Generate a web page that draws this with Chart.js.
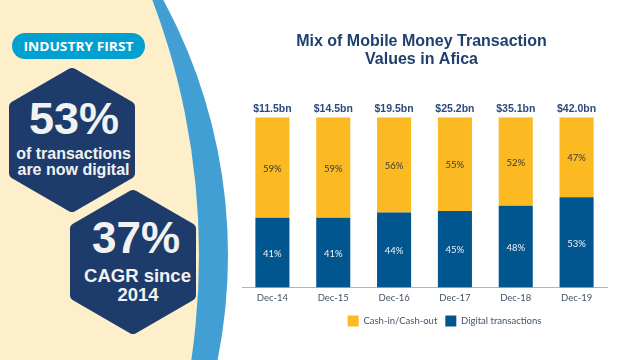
<!DOCTYPE html>
<html><head><meta charset="utf-8">
<script src="https://cdn.jsdelivr.net/npm/chart.js@4/dist/chart.umd.min.js"></script>
<style>
html,body{margin:0;padding:0;background:#fff;}
#wrap{position:relative;width:640px;height:360px;overflow:hidden;background:#fff;}
#panel{position:absolute;left:0;top:0;}
#c{position:absolute;left:0;top:0;}
</style></head><body>
<div id="wrap">
<svg id="panel" width="640" height="360" xmlns="http://www.w3.org/2000/svg">
  <circle cx="-307" cy="255" r="535" fill="#429fd3"/>
  <circle cx="-521" cy="255" r="720" fill="#fcefca"/>
  <rect x="12" y="33" width="133" height="26" rx="13" fill="#00a0d0"/>
  <text x="78.5" y="50.5" text-anchor="middle" font-family="Open Sans" font-weight="700" font-size="11.5" fill="#ffffff" textLength="110" lengthAdjust="spacingAndGlyphs">INDUSTRY FIRST</text>
  <polygon points="72,74 129,107 129,173 72,206 15,173 15,107" fill="#1d3c6c" stroke="#1d3c6c" stroke-width="12" stroke-linejoin="round"/>
  <polygon points="133,196 190,229 190,295 133,328 76,295 76,229" fill="#1d3c6c" stroke="#1d3c6c" stroke-width="12" stroke-linejoin="round"/>
  <g font-family="Liberation Sans" font-weight="700" fill="#f2f2f2" text-anchor="middle">
    <text x="74" y="134" font-size="45">53%</text>
    <text x="73.5" y="159" font-size="16">of transactions</text>
    <text x="73.5" y="175" font-size="16">are now digital</text>
    <text x="136" y="253" font-size="44">37%</text>
    <text x="137.5" y="282" font-size="18.5">CAGR since</text>
    <text x="138" y="301" font-size="18.5">2014</text>
  </g>
</svg>
<canvas id="c" width="640" height="360"></canvas>
</div>
<script>
const categories = ['Dec-14', 'Dec-15', 'Dec-16', 'Dec-17', 'Dec-18', 'Dec-19'];
const digitalShare = [41, 41, 44, 45, 48, 53];
const cashShare = [59, 59, 56, 55, 52, 47];
const totalValues = ['$11.5bn', '$14.5bn', '$19.5bn', '$25.2bn', '$35.1bn', '$42.0bn'];
const seriesNames = ['Digital transactions', 'Cash-in/Cash-out'];
const titleLines = ['Mix of Mobile Money Transaction', 'Values in Afica'];

const YELLOW = '#fbb922';
const BLUE = '#02568f';

const barLabels = {
  id: 'barLabels',
  afterDatasetsDraw(chart) {
    const ctx = chart.ctx;
    ctx.save();
    ctx.textAlign = 'center';
    ctx.textBaseline = 'middle';
    ctx.font = '9.5px Lato';
    chart.data.datasets.forEach((ds, di) => {
      const meta = chart.getDatasetMeta(di);
      meta.data.forEach((bar, i) => {
        const p = bar.getProps(['x', 'y', 'base'], true);
        ctx.fillStyle = di === 0 ? '#eef2f7' : '#3a3a3a';
        ctx.fillText(ds.data[i] + '%', p.x, (p.y + p.base) / 2 + 1);
      });
    });
    const topMeta = chart.getDatasetMeta(1);
    ctx.font = 'bold 10.5px "Liberation Sans"';
    ctx.fillStyle = '#2c4a7c';
    ctx.textBaseline = 'alphabetic';
    topMeta.data.forEach((bar, i) => {
      const p = bar.getProps(['x', 'y'], true);
      ctx.fillText(totalValues[i], p.x, p.y - 5);
    });
    ctx.restore();
  }
};

const shiftBoxes = {
  id: 'shiftBoxes',
  afterLayout(chart) {
    const lg = chart.legend;
    if (lg) { lg.left += 20; lg.right += 20; lg.top -= 1.5; lg.bottom -= 1.5; }
    const tb = chart.titleBlock;
    if (tb) { tb.left -= 3; tb.right -= 3; }
  }
};

new Chart(document.getElementById('c'), {
  type: 'bar',
  data: {
    labels: categories,
    datasets: [
      { label: seriesNames[0], data: digitalShare, backgroundColor: BLUE, borderWidth: 0 },
      { label: seriesNames[1], data: cashShare, backgroundColor: YELLOW, borderWidth: 0 }
    ]
  },
  options: {
    responsive: false,
    animation: false,
    devicePixelRatio: 1,
    datasets: { bar: { categoryPercentage: 0.8, barPercentage: 0.7 } },
    layout: { padding: { left: 242, right: 33, top: 0, bottom: 22 } },
    scales: {
      x: {
        stacked: true,
        grid: { display: false, drawTicks: false },
        border: { display: true, color: '#a9b6c6', width: 1 },
        ticks: { color: '#44546a', font: { family: 'Lato', size: 9.5 }, padding: 5 }
      },
      y: {
        stacked: true, display: false, min: 0, max: 100
      }
    },
    plugins: {
      title: {
        display: true,
        text: titleLines,
        color: '#1f3f6e',
        font: { family: 'Liberation Sans', size: 16, weight: 'bold', lineHeight: 1.1 },
        padding: { top: 33, bottom: 49 }
      },
      legend: {
        position: 'bottom',
        reverse: true,
        labels: {
          color: '#44546a',
          boxWidth: 11, boxHeight: 11,
          padding: 8,
          font: { family: 'Lato', size: 9.5 }
        }
      },
      tooltip: { enabled: false }
    }
  },
  plugins: [barLabels, shiftBoxes]
});
</script>
</body></html>
